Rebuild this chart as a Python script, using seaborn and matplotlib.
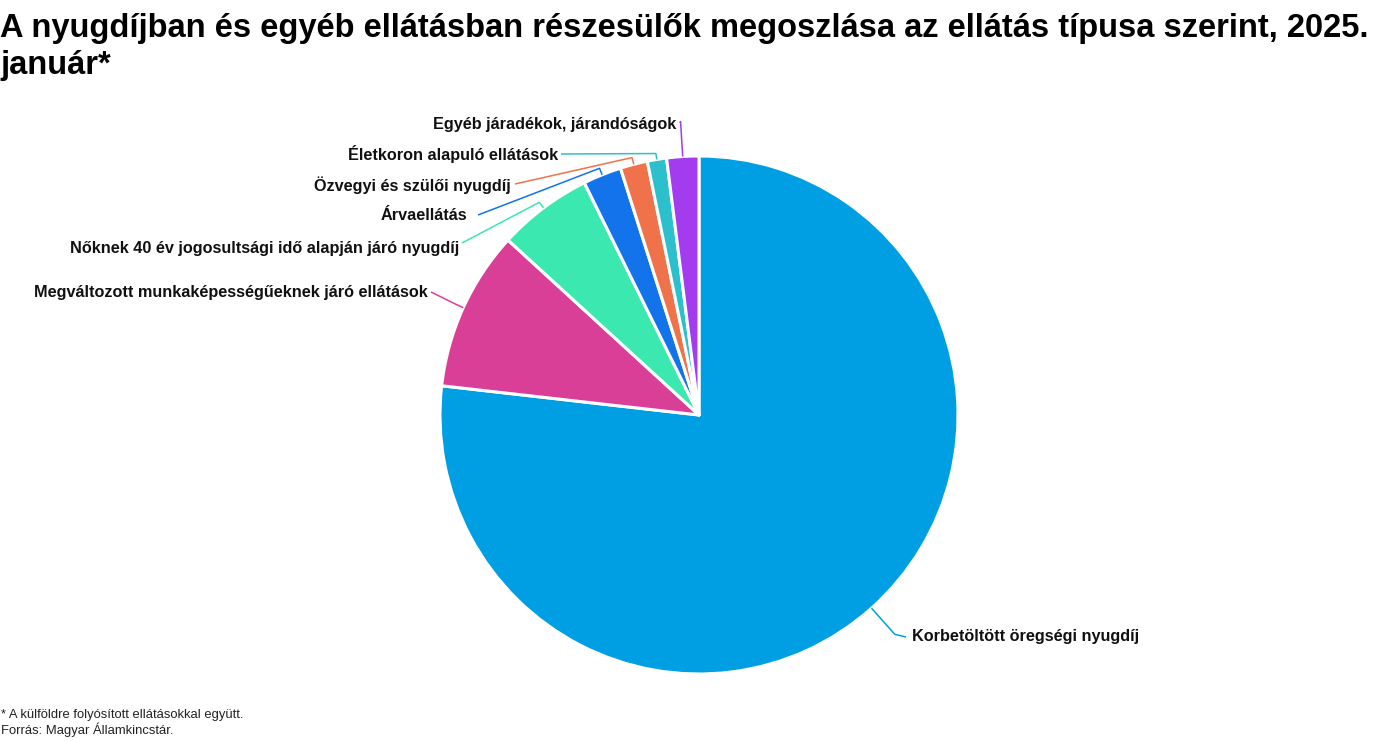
import numpy as np
import matplotlib
matplotlib.use("Agg")
import matplotlib.pyplot as plt
import seaborn as sns

# --- Data (share of recipients, %) ---
CATEGORIES = [
    "Korbetöltött öregségi nyugdíj",
    "Megváltozott munkaképességűeknek járó ellátások",
    "Nőknek 40 év jogosultsági idő alapján járó nyugdíj",
    "Árvaellátás",
    "Özvegyi és szülői nyugdíj",
    "Életkoron alapuló ellátások",
    "Egyéb járadékok, járandóságok",
]
SHARES = [76.8, 10.0, 5.9, 2.4, 1.7, 1.2, 2.0]
COLORS = ["#009FE3", "#DA3F98", "#3BE8B0", "#1273EB", "#F0724B", "#2CC0CD", "#A23CEE"]

TITLE_LINES = [
    "A nyugdíjban és egyéb ellátásban részesülők megoszlása az ellátás típusa szerint, 2025.",
    "január*",
]
NOTE = "* A külföldre folyósított ellátásokkal együtt."
SOURCE = "Forrás: Magyar Államkincstár."

# --- Layout (pixel coords, y measured from top) ---
W, H = 1400, 741
CENTER = (699, 415)
RADIUS = 259
# label anchor (x, y), horizontal alignment, elbow distance out from the rim
LABEL_POS = [
    (912, 637, "left", 35),
    (428, 293, "right", 7),
    (459, 249, "right", 7),
    (467, 216, "right", 7),
    (511, 185, "right", 7),
    (558, 154, "right", 6),
    (676, 124, "right", 35),
]
# where the connector meets the text
LINE_END = [
    (906, 637),
    (431, 292),
    (462, 243),
    (478, 215),
    (515, 184),
    (561, 154),
    (680, 123),
]


def flip(y):
    return H - y


def main():
    sns.set_theme(style="white")
    plt.rcParams["font.family"] = ["Liberation Sans", "DejaVu Sans"]

    fig = plt.figure(figsize=(W / 100, H / 100), dpi=100)
    ax = fig.add_axes([0, 0, 1, 1])

    cx, cy = CENTER[0], flip(CENTER[1])
    wedges, _ = ax.pie(
        SHARES,
        colors=COLORS,
        startangle=90,
        counterclock=False,
        center=(cx, cy),
        radius=RADIUS,
        wedgeprops=dict(edgecolor="white", linewidth=2.2, joinstyle="round"),
    )
    ax.set_xlim(0, W)
    ax.set_ylim(0, H)
    ax.set_aspect("equal")
    ax.axis("off")

    # labels with leader lines
    for wedge, label, color, pos, end in zip(wedges, CATEGORIES, COLORS, LABEL_POS, LINE_END):
        mid = np.deg2rad((wedge.theta1 + wedge.theta2) / 2)
        ux, uy = np.cos(mid), np.sin(mid)
        x0, y0 = cx + RADIUS * ux, cy + RADIUS * uy
        tx, ty, ha, elbow = pos
        x1, y1 = cx + (RADIUS + elbow) * ux, cy + (RADIUS + elbow) * uy
        ax.plot([x0, x1, end[0]], [y0, y1, flip(end[1])], color=color, lw=1.1,
                solid_capstyle="butt", zorder=1)
        ax.text(tx, flip(ty), label, ha=ha, va="center", fontsize=11.7,
                fontweight="bold", color="#111111")

    # title, two lines at fixed baselines
    for line, base in zip(TITLE_LINES, [37, 74]):
        fig.text(0, 1 - base / H, line, ha="left", va="baseline", fontsize=23.5,
                 fontweight="bold", color="#000000")
    fig.text(1 / W, 1 - 718 / H, NOTE, ha="left", va="baseline", fontsize=9.4, color="#222222")
    fig.text(1 / W, 1 - 734 / H, SOURCE, ha="left", va="baseline", fontsize=9.4, color="#222222")

    fig.savefig("out.png", dpi=100, facecolor="white")
    plt.close(fig)


if __name__ == "__main__":
    main()
